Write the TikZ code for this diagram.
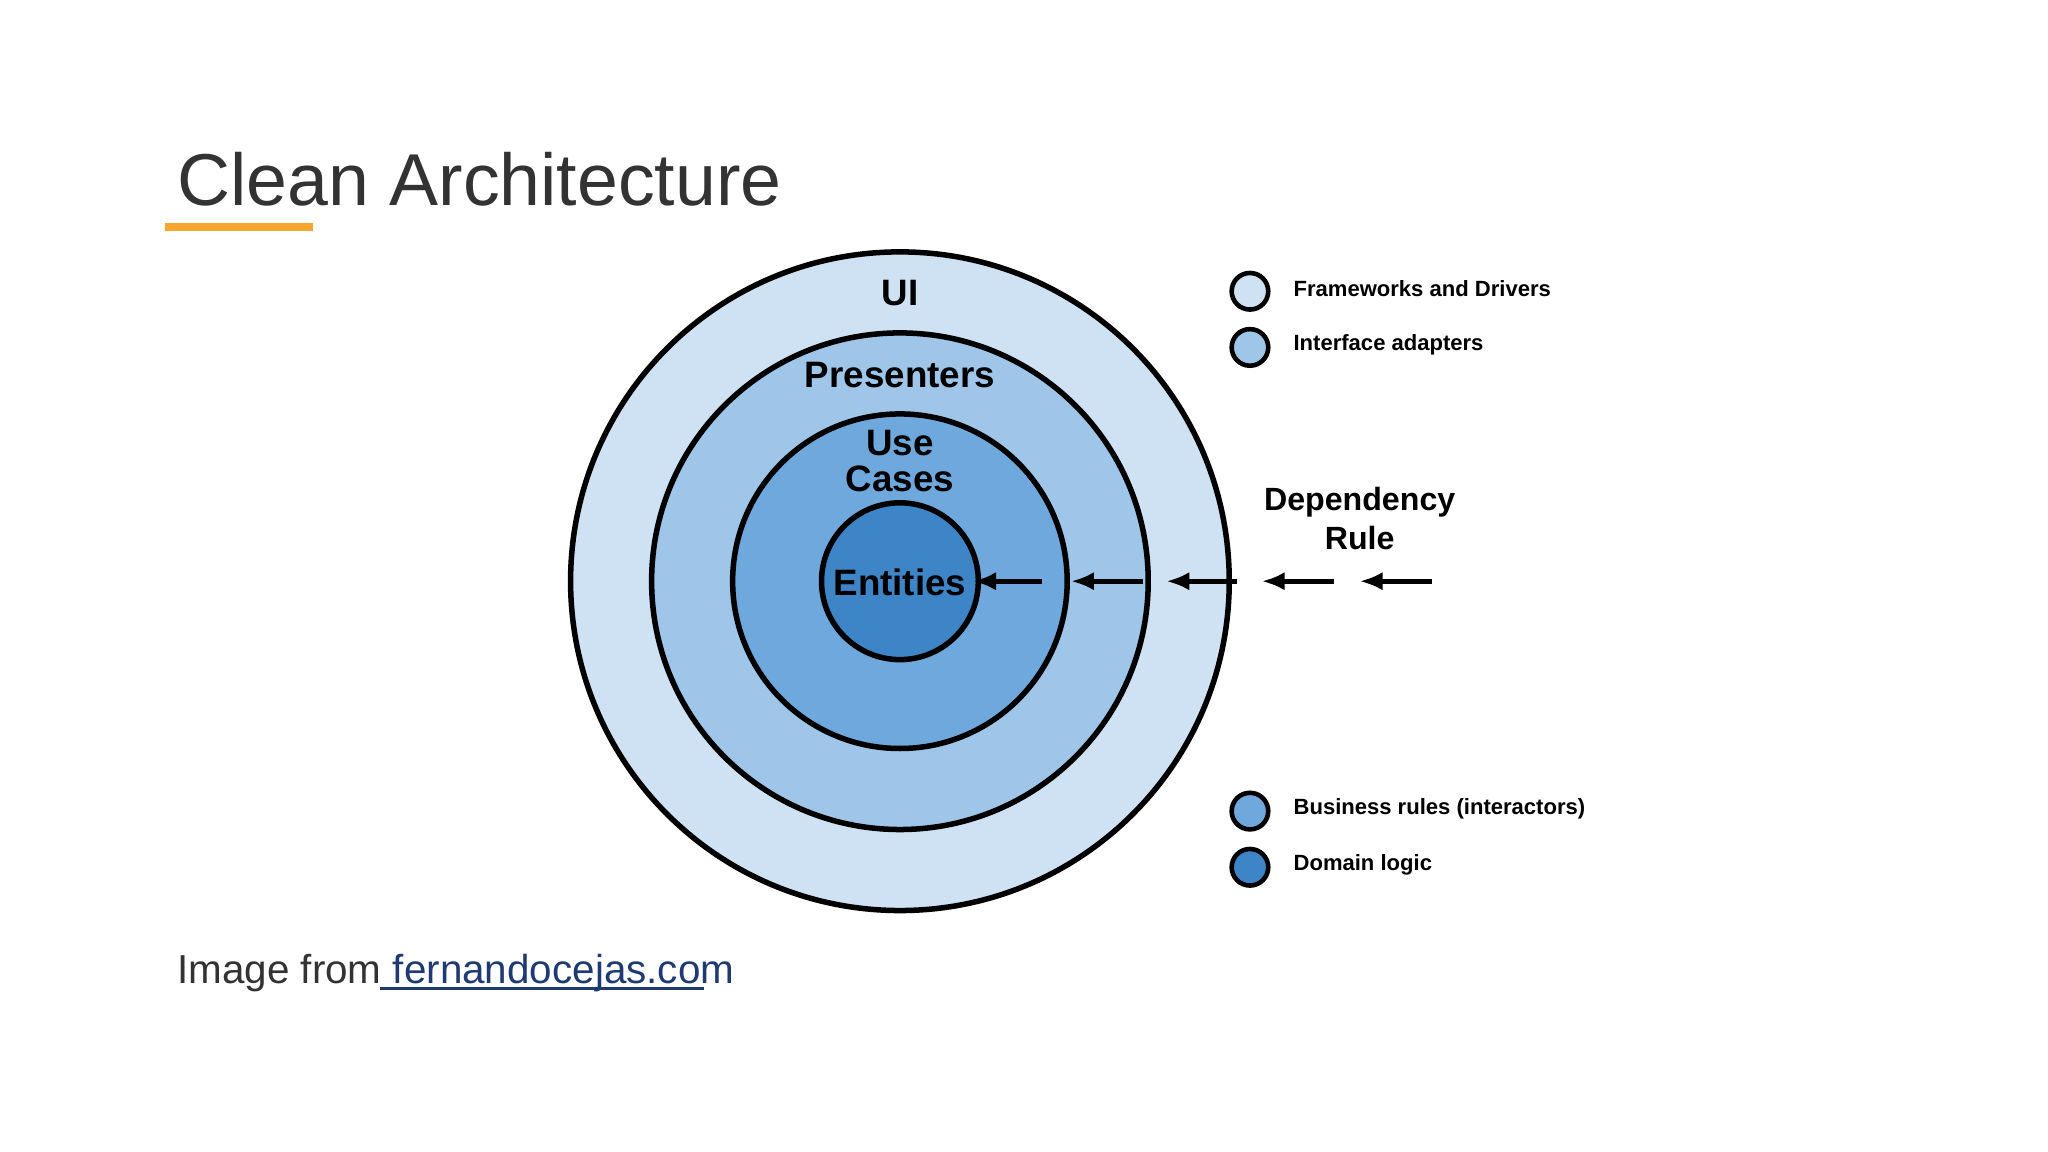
\documentclass[tikz,border=0pt]{standalone}
\usepackage{fontspec}
\setmainfont{Liberation Sans}
\usetikzlibrary{arrows.meta}
\definecolor{c1}{HTML}{CFE2F3}
\definecolor{c2}{HTML}{9FC5E8}
\definecolor{c3}{HTML}{6FA8DC}
\definecolor{c4}{HTML}{3D85C6}
\definecolor{ttl}{HTML}{333333}
\definecolor{org}{HTML}{F6A52F}
\definecolor{lnk}{HTML}{1F3A73}
\begin{document}
\begin{tikzpicture}[x=0.01cm,y=-0.01cm,
  ring/.style={circle,draw=black,line width=1.2pt,inner sep=0pt},
  lbl/.style={font=\bfseries\fontsize{8}{9}\selectfont,align=center},
  leg/.style={circle,draw=black,line width=1pt,minimum size=0.28cm,inner sep=0pt},
  legt/.style={anchor=west,font=\bfseries\fontsize{4.8}{6}\selectfont},
  arr/.style={-{Latex[length=5pt,width=4pt]},line width=1pt}]
\useasboundingbox (0,0) rectangle (1568,882);
\node[anchor=base west,text=ttl,font=\fontsize{16}{19}\selectfont,inner sep=0pt] (title) at (135,157) {Clean Architecture};
\fill[org] (126,171) rectangle (240,177);
\node[ring,fill=c1,minimum size=5.04cm] (o1) at (689,445) {};
\node[ring,fill=c2,minimum size=3.80cm] (o2) at (689,445) {};
\node[ring,fill=c3,minimum size=2.56cm] (o3) at (689,445) {};
\node[ring,fill=c4,minimum size=1.20cm] (o4) at (689,445) {};
\node[lbl] (ui) at (689,224) {UI};
\node[lbl] (pr) at (689,287) {Presenters};
\node[lbl] (uc) at (689,353) {Use\\[-1pt]Cases};
\node[lbl] (en) at (689,446) {Entities};
\node[lbl,font=\bfseries\fontsize{7}{8.5}\selectfont] (dr) at (1041,397) {Dependency\\Rule};
\foreach \a/\b [count=\i] in {798/745,875/820,947/893,1021/966,1096/1041}{
  \coordinate (s\i) at (\a,445); \coordinate (e\i) at (\b,445);
  \draw[arr] (s\i) -- (e\i);}
\foreach \y/\c/\t [count=\i] in {223/c1/Frameworks and Drivers,266/c2/Interface adapters,621/c3/Business rules (interactors),664/c4/Domain logic}{
  \node[leg,fill=\c] (l\i) at (957,\y) {};
  \node[legt] (lt\i) at (978,\y-2) {\t};}
\node[anchor=base west,inner sep=0pt,font=\fontsize{8.8}{10}\selectfont,text=ttl] (src) at (135,753) {Image from \textcolor{lnk}{fernandocejas.com}};
\draw[lnk,line width=0.6pt] (291,757) -- (539,757);
\end{tikzpicture}
\end{document}
